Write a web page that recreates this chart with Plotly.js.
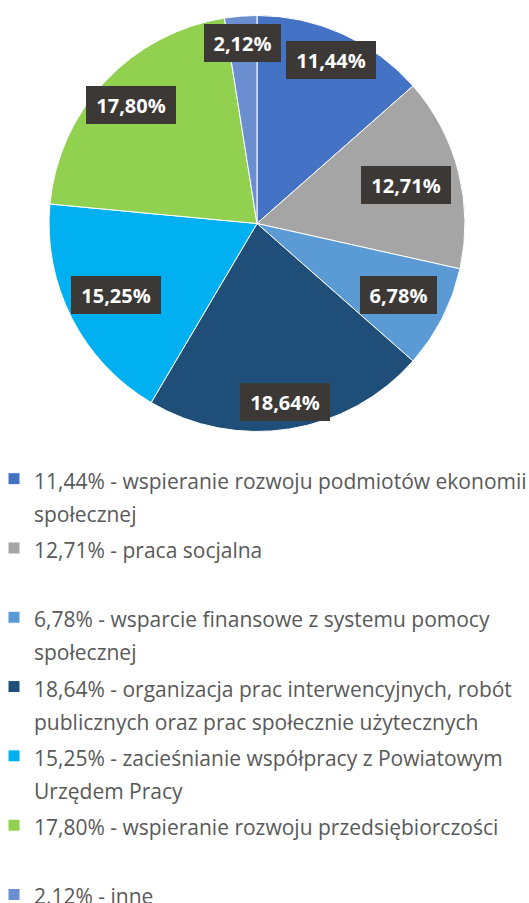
<!DOCTYPE html>
<html><head><meta charset="utf-8">
<script src="https://cdn.plot.ly/plotly-3.0.1.min.js"></script>
<style>html,body{margin:0;padding:0;background:#fff;overflow:hidden}</style>
</head><body><div id="chart" style="width:529px;height:903px"></div>
<script>
// ---- data ----
const categories = [
  'wspieranie rozwoju podmiotów ekonomii społecznej',
  'praca socjalna',
  'wsparcie finansowe z systemu pomocy społecznej',
  'organizacja prac interwencyjnych, robót publicznych oraz prac społecznie użytecznych',
  'zacieśnianie współpracy z Powiatowym Urzędem Pracy',
  'wspieranie rozwoju przedsiębiorczości',
  'inne'
];
const values = [11.44, 12.71, 6.78, 18.64, 15.25, 17.80, 2.12];
const valueLabels = ['11,44%', '12,71%', '6,78%', '18,64%', '15,25%', '17,80%', '2,12%'];
const colors = ['#4472C4', '#A5A5A5', '#5B9BD5', '#1F4E79', '#00B0F0', '#92D050', '#6A8ED0'];

// ---- layout helpers ----
const W = 529, H = 903;
const cx = 257, cy = 223.5, R = 208;

function wrap(text, maxChars) {
  const words = text.split(' ');
  const lines = [];
  let cur = '';
  words.forEach(w => {
    const t = cur ? cur + ' ' + w : w;
    if (t.length > maxChars && cur) { lines.push(cur); cur = w; } else { cur = t; }
  });
  if (cur) lines.push(cur);
  return lines;
}
const span = s => '<span style="font-size:21px">' + s + '</span>';
const legendLabels = categories.map((c, i) => {
  const lines = wrap(valueLabels[i] + ' - ' + c, 48);
  while (lines.length < 2) lines.push('&nbsp;');
  return lines.map(span).join('<br>');
});

const total = values.reduce((a, b) => a + b, 0);
let cum = 0;
const annotations = values.map((v, i) => {
  const mid = (cum + v / 2) / total * 2 * Math.PI;
  cum += v;
  const ux = Math.sin(mid), uy = Math.cos(mid);
  const bw = valueLabels[i].length >= 6 ? 90 : 77, bh = 38;
  const d = Math.min((bw / 2) / Math.max(Math.abs(ux), 1e-6), (bh / 2) / Math.max(Math.abs(uy), 1e-6));
  const r = 200.3 - d;
  const px = cx + r * ux, py = cy - r * uy;
  return {
    text: valueLabels[i], x: px / W, y: 1 - py / H, xref: 'paper', yref: 'paper',
    xanchor: 'center', yanchor: 'middle', showarrow: false,
    width: bw, height: bh, borderpad: 0, borderwidth: 0,
    bgcolor: '#3B3835', align: 'center', valign: 'middle',
    font: {family: 'Open Sans', size: 20, color: '#FFFFFF', weight: 'bold'}
  };
});

const trace = {
  type: 'pie',
  labels: legendLabels,
  values: values,
  sort: false,
  direction: 'clockwise',
  rotation: 0,
  textinfo: 'none',
  hoverinfo: 'none',
  marker: {colors: colors, line: {color: '#FFFFFF', width: 1}},
  domain: {x: [(cx - R) / W, (cx + R) / W], y: [1 - (cy + R) / H, 1 - (cy - R) / H]}
};

const layout = {
  width: W, height: H,
  margin: {l: 0, r: 0, t: 0, b: 0, autoexpand: false},
  paper_bgcolor: '#FFFFFF',
  showlegend: true,
  legend: {
    x: -6 / W, xanchor: 'left', y: 1 - 455.6 / H, yanchor: 'top',
    font: {family: 'Open Sans', size: 25.5, color: '#595959'},
    valign: 'top', bgcolor: 'rgba(0,0,0,0)', borderwidth: 0
  },
  annotations: annotations
};

Plotly.newPlot('chart', [trace], layout, {displayModeBar: false, staticPlot: true});
</script></body></html>
